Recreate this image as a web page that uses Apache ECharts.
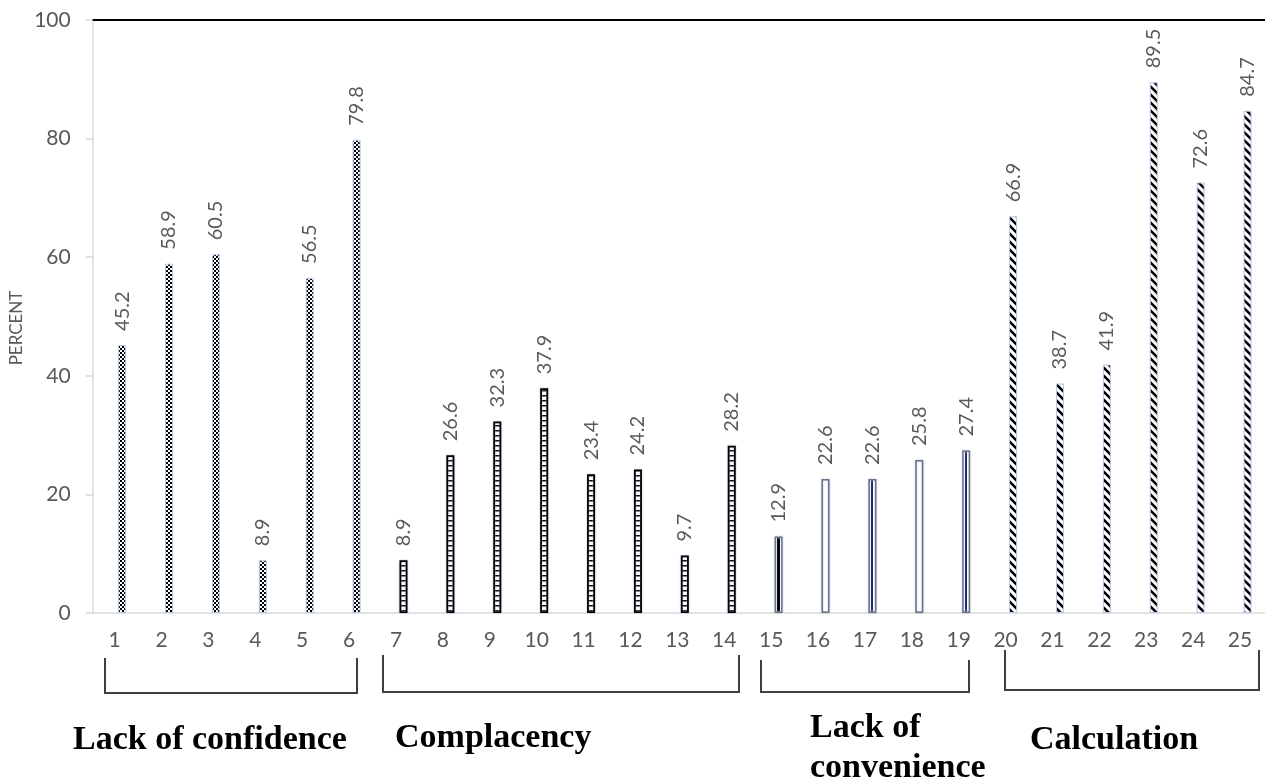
<!DOCTYPE html>
<html>
<head>
<meta charset="utf-8">
<script src="https://cdn.jsdelivr.net/npm/echarts@6/dist/echarts.min.js"></script>
<style>
html,body{margin:0;padding:0;background:#fff;}
#main{width:1265px;height:780px;}
</style>
</head>
<body>
<div id="main"></div>
<script>
// ---- data ----
const categories = ['1','2','3','4','5','6','7','8','9','10','11','12','13','14','15','16','17','18','19','20','21','22','23','24','25'];
const values = [45.2, 58.9, 60.5, 8.9, 56.5, 79.8, 8.9, 26.6, 32.3, 37.9, 23.4, 24.2, 9.7, 28.2, 12.9, 22.6, 22.6, 25.8, 27.4, 66.9, 38.7, 41.9, 89.5, 72.6, 84.7];
const groupOf = [0,0,0,0,0,0, 1,1,1,1,1,1,1,1, 2,2,2,2,2, 3,3,3,3,3,3];
const groupNames = ['Lack of confidence', 'Complacency', 'Lack of\nconvenience', 'Calculation'];
const yTicks = [0, 20, 40, 60, 80, 100];
const yLabel = 'PERCENT';

// ---- patterns ----
function makeCanvas(w, h, draw) {
  const c = document.createElement('canvas');
  c.width = w; c.height = h;
  const ctx = c.getContext('2d');
  ctx.fillStyle = '#fff'; ctx.fillRect(0, 0, w, h);
  draw(ctx);
  return c;
}
const checker = makeCanvas(4, 4, ctx => {
  ctx.fillStyle = '#000';
  ctx.fillRect(0, 0, 2, 2); ctx.fillRect(2, 2, 2, 2);
});
const ladder = makeCanvas(8, 5, ctx => {
  ctx.fillStyle = '#000';
  ctx.fillRect(0, 0, 8, 1.5);
});
const diag = makeCanvas(8, 8, ctx => {
  ctx.strokeStyle = '#000'; ctx.lineWidth = 2.6;
  ctx.beginPath();
  ctx.moveTo(-2, -2); ctx.lineTo(10, 10);
  ctx.moveTo(-10, -2); ctx.lineTo(2, 10);
  ctx.moveTo(6, -2); ctx.lineTo(18, 10);
  ctx.stroke();
});
function centerLine(color, frac) {
  const a = 0.5 - frac / 2, b = 0.5 + frac / 2;
  return new echarts.graphic.LinearGradient(0, 0, 1, 0, [
    {offset: 0, color: '#fff'}, {offset: a, color: '#fff'},
    {offset: a, color: color}, {offset: b, color: color},
    {offset: b, color: '#fff'}, {offset: 1, color: '#fff'}
  ]);
}
function styleFor(i) {
  const g = groupOf[i];
  if (g === 0) return {color: {image: checker, repeat: 'repeat'}, borderColor: '#b4c7e7', borderWidth: 1};
  if (g === 1) return {color: {image: ladder, repeat: 'repeat'}, borderColor: '#000', borderWidth: 1.8,
                       shadowColor: '#b4c7e7', shadowBlur: 2};
  if (g === 2) {
    const k = i - 14;
    let fill = '#fff';
    if (k === 0) fill = centerLine('#000', 0.3);
    else if (k === 2) fill = centerLine('#1f2a5a', 0.25);
    else if (k === 4) fill = centerLine('#1f2a6e', 0.3);
    return {color: fill, borderColor: '#6b7385', borderWidth: 1.5, shadowColor: '#b4c7e7', shadowBlur: 2};
  }
  return {color: {image: diag, repeat: 'repeat'}, borderColor: '#b4c7e7', borderWidth: 1};
}

const chart = echarts.init(document.getElementById('main'), null, {renderer: 'canvas'});
const axisFont = 'Lato, "Open Sans", sans-serif';

const option = {
  animation: false,
  backgroundColor: '#fff',
  grid: {left: 92.7, right: 0, top: 20, bottom: 167, containLabel: false},
  xAxis: {
    type: 'category',
    data: categories,
    axisLine: {show: true, lineStyle: {color: '#d9d9d9', width: 1.5}},
    axisTick: {show: false},
    axisLabel: {color: '#595959', fontSize: 21, fontFamily: axisFont, margin: 17, interval: 0,
                padding: [0, 3, 0, 0]}
  },
  yAxis: {
    type: 'value',
    min: yTicks[0], max: yTicks[yTicks.length - 1], interval: 20,
    axisLine: {show: true, lineStyle: {color: '#d9d9d9', width: 1.5}},
    axisTick: {show: true, length: 7, lineStyle: {color: '#d9d9d9', width: 1.5}},
    splitLine: {show: false},
    axisLabel: {color: '#595959', fontSize: 21, fontFamily: axisFont, margin: 22}
  },
  series: [
    {type: 'bar', data: values.map(() => '-'), barWidth: 8, barGap: '50%', silent: true},
    {
      type: 'bar',
      barWidth: 8,
      barGap: '50%',
      data: values.map((v, i) => ({value: v, itemStyle: styleFor(i)})),
      label: {
        show: true, position: 'top', rotate: 90, distance: 14,
        align: 'left', verticalAlign: 'middle',
        color: '#595959', fontSize: 20, fontFamily: axisFont,
        formatter: p => String(p.value)
      },
      markLine: {
        silent: true, symbol: 'none', label: {show: false},
        lineStyle: {color: '#000', width: 2, type: 'solid'},
        data: [{yAxis: 100}]
      }
    }
  ],
  graphic: []
};
chart.setOption(option);

// annotations: brackets and group names
const brackets = [
  {x1: 105, x2: 357, top: 658, bottom: 693},
  {x1: 383, x2: 739, top: 655, bottom: 692},
  {x1: 761, x2: 969, top: 660, bottom: 692},
  {x1: 1005, x2: 1259, top: 650, bottom: 690}
];
const nameBoxes = [
  {x: 73, y: 740}, {x: 395, y: 738}, {x: 810, y: 748}, {x: 1030, y: 740}
];
const graphics = [];
brackets.forEach(b => {
  graphics.push({type: 'polyline', silent: true,
    shape: {points: [[b.x1, b.top], [b.x1, b.bottom], [b.x2, b.bottom], [b.x2, b.top]]},
    style: {stroke: '#404040', lineWidth: 2, fill: null}});
});
groupNames.forEach((n, i) => {
  graphics.push({type: 'text', silent: true, x: nameBoxes[i].x, y: nameBoxes[i].y,
    style: {text: n, font: 'bold 34px "Liberation Serif", "Times New Roman", serif', fill: '#000',
            verticalAlign: 'middle', align: 'left', lineHeight: 40}});
});
graphics.push({type: 'text', silent: true, x: 17, y: 328, rotation: Math.PI / 2,
  style: {text: yLabel, font: '17px Lato, "Open Sans", sans-serif', fill: '#595959', align: 'center', verticalAlign: 'middle'}});
chart.setOption({graphic: graphics});
</script>
</body>
</html>
